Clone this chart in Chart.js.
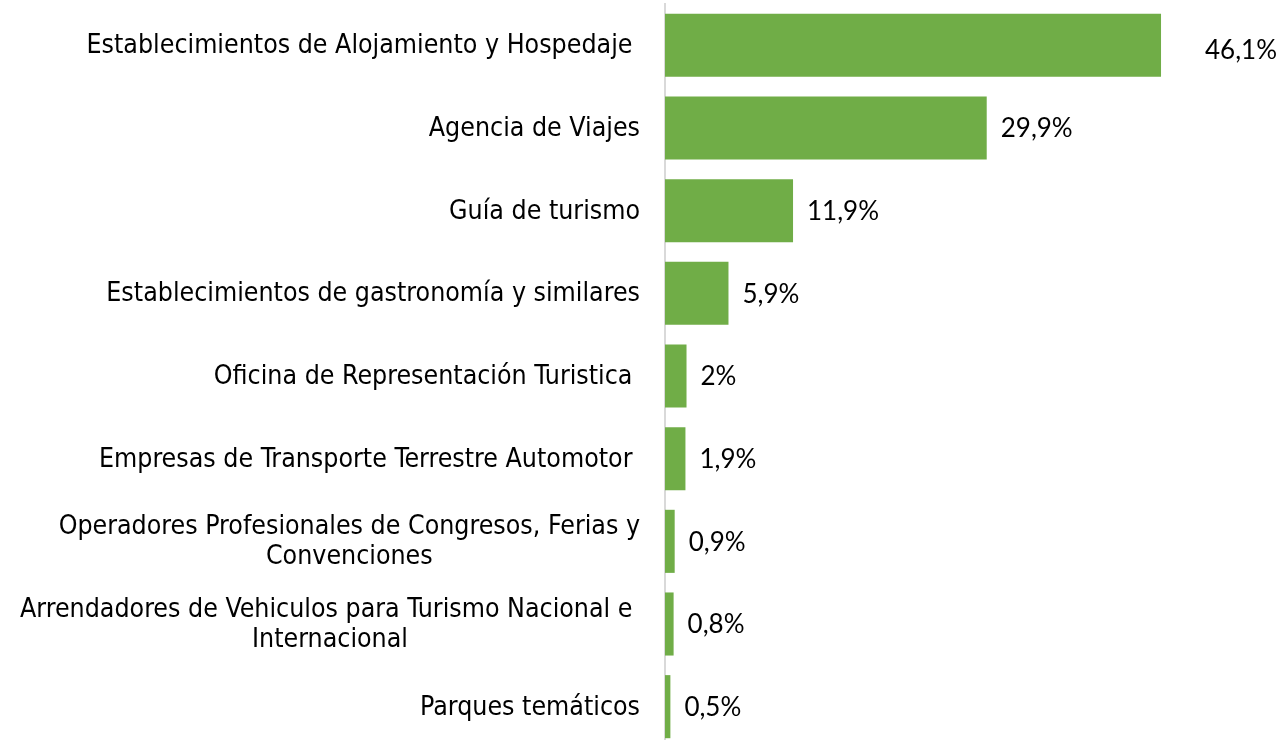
<!DOCTYPE html>
<html>
<head>
<meta charset="utf-8">
<script src="https://cdn.jsdelivr.net/npm/chart.js@4.4.0/dist/chart.umd.min.js"></script>
<style>
  html, body { margin: 0; padding: 0; background: #fff; overflow: hidden; }
  #wrap { width: 1281px; height: 750px; }
</style>
</head>
<body>
<div id="wrap"><canvas id="myChart"></canvas></div>
<script>
const categories = [
  ["Establecimientos de Alojamiento y Hospedaje "],
  ["Agencia de Viajes"],
  ["Guía de turismo"],
  ["Establecimientos de gastronomía y similares"],
  ["Oficina de Representación Turistica "],
  ["Empresas de Transporte Terrestre Automotor "],
  ["Operadores Profesionales de Congresos, Ferias y", "Convenciones"],
  ["Arrendadores de Vehiculos para Turismo Nacional e ", "Internacional"],
  ["Parques temáticos"]
];
const values = [46.1, 29.9, 11.9, 5.9, 2, 1.9, 0.9, 0.8, 0.5];
const valueLabels = ["46,1%", "29,9%", "11,9%", "5,9%", "2%", "1,9%", "0,9%", "0,8%", "0,5%"];

const catFont = '26.5px "DejaVu Sans Condensed", "DejaVu Sans", sans-serif';
const valFont = '26px Lato, "Open Sans", sans-serif';

// category labels: right aligned block, extra lines centred under the first
const catLabels = {
  id: 'catLabels',
  afterDraw(chart) {
    const ctx = chart.ctx;
    const y = chart.scales.y;
    const right = y.right - 25;
    ctx.save();
    ctx.font = catFont;
    ctx.fillStyle = '#000';
    ctx.textAlign = 'center';
    ctx.textBaseline = 'middle';
    categories.forEach((lines, i) => {
      const cy = y.getPixelForValue(i);
      const w = Math.max(...lines.map(l => ctx.measureText(l).width));
      const cx = right - w / 2;
      const lh = 30;
      const top = cy - (lines.length - 1) * lh / 2;
      lines.forEach((l, j) => {
        ctx.fillText(l, cx, top + j * lh + 1);
      });
    });
    ctx.restore();
  }
};

// value labels; the first one sits further out, as in the original
const valLabels = {
  id: 'valLabels',
  afterDatasetsDraw(chart) {
    const ctx = chart.ctx;
    const meta = chart.getDatasetMeta(0);
    ctx.save();
    ctx.font = valFont;
    ctx.fillStyle = '#000';
    ctx.textAlign = 'left';
    ctx.textBaseline = 'middle';
    meta.data.forEach((bar, i) => {
      const dx = i === 0 ? 44 : 14;
      const dy = i === 0 ? 5 : 1;
      ctx.fillText(valueLabels[i], bar.x + dx, bar.y + dy);
    });
    ctx.restore();
  }
};

new Chart(document.getElementById('myChart').getContext('2d'), {
  type: 'bar',
  data: {
    labels: categories,
    datasets: [{
      data: values,
      backgroundColor: '#70AD47',
      borderWidth: 0,
      categoryPercentage: 1,
      barPercentage: 0.763
    }]
  },
  options: {
    indexAxis: 'y',
    responsive: true,
    maintainAspectRatio: false,
    animation: false,
    layout: { padding: { top: 4, bottom: 2, left: 0, right: 0 } },
    plugins: {
      legend: { display: false },
      tooltip: { enabled: false },
      title: { display: false }
    },
    scales: {
      x: {
        display: false,
        min: 0,
        max: 57.25
      },
      y: {
        grid: { display: false, drawTicks: false },
        border: { display: true, color: '#d9d9d9', width: 2 },
        ticks: { display: false },
        afterFit(scale) { scale.width = 665; }
      }
    }
  },
  plugins: [catLabels, valLabels]
});
</script>
</body>
</html>
